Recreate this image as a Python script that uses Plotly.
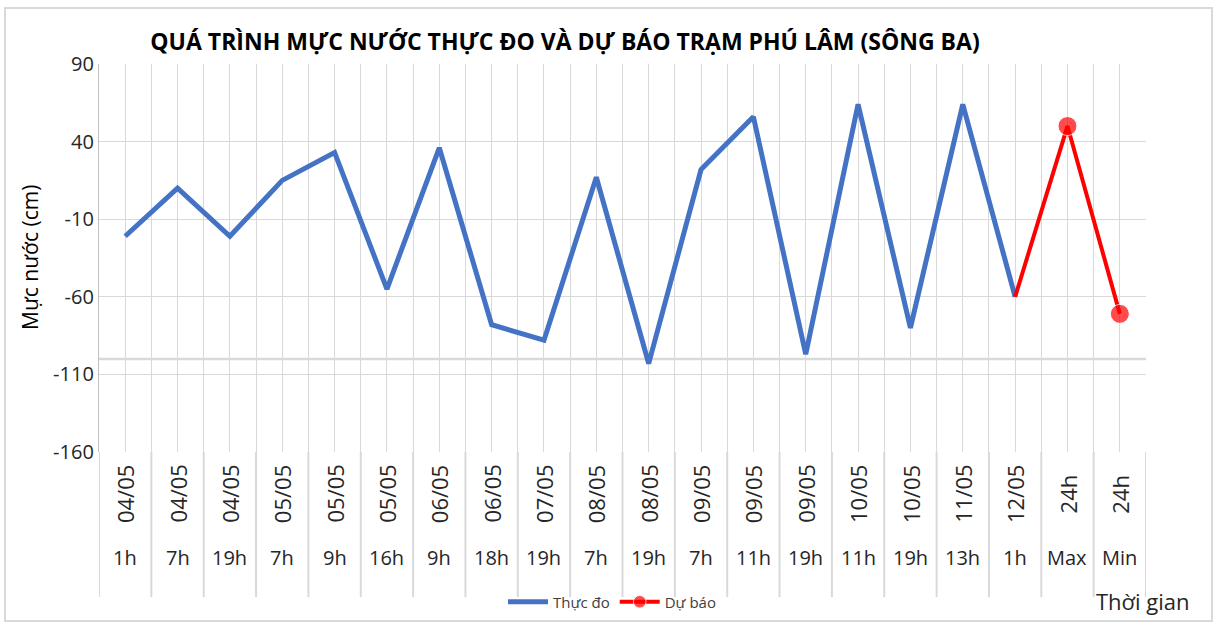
import plotly.graph_objects as go

# ---- data ----
dates = ["04/05", "04/05", "04/05", "05/05", "05/05", "05/05", "06/05", "06/05", "07/05", "08/05",
         "08/05", "09/05", "09/05", "09/05", "10/05", "10/05", "11/05", "12/05", "24h", "24h"]
hours = ["1h", "7h", "19h", "7h", "9h", "16h", "9h", "18h", "19h", "7h",
         "19h", "7h", "11h", "19h", "11h", "19h", "13h", "1h", "Max", "Min"]
observed = [-21, 10, -21, 15, 33, -55, 36, -78, -88, 17,
            -103, 22, 56, -97, 64, -80, 64, -60]
forecast = [-60, 50, -71]          # 12/05 1h, Max, Min
forecast_start = 17                # forecast series starts at the last observed point
y_ticks = [-160, -110, -60, -10, 40, 90]
axis_cross = -100

FONT = "Open Sans"
TXT = "#262626"
GRID = "#d9d9d9"

n = len(dates)
idx = list(range(n))
obs_x = idx[:len(observed)]
fc_x = idx[forecast_start:forecast_start + len(forecast)]

fig = go.Figure()
fig.add_trace(go.Scatter(
    x=obs_x, y=observed, mode="lines", name="Thực đo",
    line=dict(color="#4472C4", width=5), hoverinfo="skip"))
fig.add_trace(go.Scatter(
    x=fc_x, y=forecast, mode="lines+markers", name="Dự báo",
    line=dict(color="#FF0000", width=4),
    marker=dict(symbol="circle", size=[0, 19, 19], color="#FF0000"),
    hoverinfo="skip"))

half_steps = [i - 0.5 for i in range(n + 1)] + idx
shapes = []
# axis crossing line
shapes.append(dict(type="line", xref="paper", yref="y", x0=0, x1=1, y0=axis_cross, y1=axis_cross,
                   line=dict(color=GRID, width=2.5), layer="below"))
# category box separators below plot
for i in range(n + 1):
    shapes.append(dict(type="line", xref="x", yref="paper", x0=i - 0.5, x1=i - 0.5,
                       y0=0, y1=-0.374, line=dict(color=GRID, width=2)))
# outer chart border
shapes.append(dict(type="rect", xref="paper", yref="paper",
                   x0=(5 - 99) / 1047, x1=(1212 - 99) / 1047,
                   y0=(452 - 621) / 388, y1=(452 - 8) / 388,
                   line=dict(color="#d9d9d9", width=2)))

annotations = []
for i in range(n):
    annotations.append(dict(x=i, xref="x", y=-0.108, yref="paper", text=dates[i],
                            textangle=-90, showarrow=False,
                            font=dict(family=FONT, size=22, color=TXT),
                            xanchor="center", yanchor="middle"))
    annotations.append(dict(x=i, xref="x", y=-0.271, yref="paper", text=hours[i],
                            showarrow=False, font=dict(family=FONT, size=20, color=TXT),
                            xanchor="center", yanchor="middle"))
annotations.append(dict(x=(30 - 99) / 1047, xref="paper", y=0.5, yref="paper",
                        text="Mực nước (cm)", textangle=-90, showarrow=False,
                        font=dict(family=FONT, size=21, color="#000000"),
                        xanchor="center", yanchor="middle"))
annotations.append(dict(x=(1143 - 99) / 1047, xref="paper", y=(452 - 601) / 388, yref="paper",
                        text="Thời gian", showarrow=False,
                        font=dict(family=FONT, size=22, color=TXT),
                        xanchor="center", yanchor="middle"))

fig.update_layout(
    width=1217, height=624,
    margin=dict(l=99, r=71, t=64, b=172, autoexpand=False),
    paper_bgcolor="white", plot_bgcolor="white",
    title=dict(text="<b>QUÁ TRÌNH MỰC NƯỚC THỰC ĐO VÀ DỰ BÁO TRẠM PHÚ LÂM (SÔNG BA)</b>",
               x=565 / 1217, xanchor="center", y=1 - 42 / 624, yanchor="middle",
               font=dict(family=FONT, size=23, color="#000000")),
    xaxis=dict(range=[-0.5, n - 0.5], tickmode="array", tickvals=half_steps,
               showticklabels=False, ticks="", showgrid=True, gridcolor=GRID, gridwidth=1.3,
               zeroline=False, showline=False, fixedrange=True),
    yaxis=dict(range=[y_ticks[0], y_ticks[-1]], tickmode="array", tickvals=y_ticks,
               ticktext=[str(v) for v in y_ticks], ticks="",
               tickfont=dict(family=FONT, size=20, color=TXT),
               showgrid=True, gridcolor=GRID, gridwidth=1.3, zeroline=False,
               showline=True, linecolor="#bfbfbf", linewidth=1.3, mirror=False, fixedrange=True),
    showlegend=True,
    legend=dict(orientation="h", x=(612 - 99) / 1047, xanchor="center",
                y=(452 - 602) / 388, yanchor="middle",
                font=dict(family=FONT, size=15, color="#404040"),
                bgcolor="rgba(0,0,0,0)", itemwidth=40),
    shapes=shapes,
    annotations=annotations,
)

fig.write_html("out.html", config={"displayModeBar": False},
               post_script="document.body.style.margin='0';")
